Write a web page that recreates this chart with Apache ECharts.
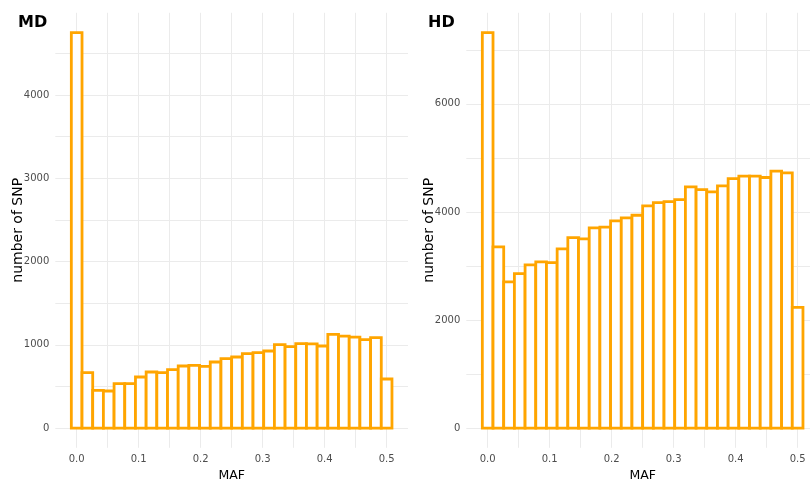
<!DOCTYPE html>
<html>
<head>
<meta charset="utf-8">
<script src="https://cdn.jsdelivr.net/npm/echarts@6/dist/echarts.min.js"></script>
<style>html,body{margin:0;padding:0;background:#fff}#c{width:810px;height:482px}</style>
</head>
<body>
<div id="c"></div>
<script>
// Histogram: 30 bins, bin width 0.5/29, centred on 0 .. 0.5
const nBins = 30;
const binWidth = 0.5 / 29;
const mdCounts = [4750, 665, 453, 445, 533, 533, 613, 673, 665, 701, 745, 753, 741, 793, 833,
                  853, 893, 905, 925, 1001, 977, 1014, 1010, 985, 1125, 1105, 1093, 1062, 1086, 589];
const hdCounts = [7320, 3352, 2704, 2859, 3019, 3074, 3063, 3315, 3526, 3500, 3704, 3717, 3833, 3889, 3939,
                  4111, 4173, 4192, 4229, 4463, 4414, 4370, 4481, 4618, 4661, 4661, 4637, 4754, 4722, 2235];
const xTickLabels = [0, 0.1, 0.2, 0.3, 0.4, 0.5];
const xGridValues = [0, 0.05, 0.1, 0.15, 0.2, 0.25, 0.3, 0.35, 0.4, 0.45, 0.5];
const mdYTickLabels = [0, 1000, 2000, 3000, 4000];
const mdYGridValues = [0, 500, 1000, 1500, 2000, 2500, 3000, 3500, 4000, 4500];
const hdYTickLabels = [0, 2000, 4000, 6000];
const hdYGridValues = [0, 1000, 2000, 3000, 4000, 5000, 6000, 7000];
const panelTitles = ['MD', 'HD'];
const xTitle = 'MAF';
const yTitle = 'number of SNP';

const chart = echarts.init(document.getElementById('c'), null, {renderer: 'canvas'});

function toData(counts) {
  return counts.map((c, k) => [k * binWidth, c]);
}
const xMin = -binWidth / 2 - 0.05 * (0.5 + binWidth);
const xMax = 0.5 + binWidth / 2 + 0.05 * (0.5 + binWidth);
function yRange(counts) {
  const m = Math.max(...counts);
  return [-0.05 * m, 1.05 * m];
}
const gridColor = '#EBEBEB';
const labelColor = '#4D4D4D';
const font = 'DejaVu Sans';

function xAxisFor(gi) {
  return {
    type: 'value', gridIndex: gi, min: xMin, max: xMax,
    name: xTitle, nameLocation: 'middle', nameGap: 21, nameMoveOverlap: false,
    nameTextStyle: {color: '#000', fontSize: 12.5, fontFamily: font},
    axisLine: {show: false},
    axisTick: {show: false, customValues: xGridValues},
    axisLabel: {customValues: xTickLabels, color: labelColor, fontSize: 10, fontFamily: font, margin: 7,
      formatter: v => v.toFixed(1)},
    splitLine: {show: true, lineStyle: {color: gridColor, width: 1}}
  };
}
function yAxisFor(gi, counts, labels, grids) {
  const r = yRange(counts);
  return {
    type: 'value', gridIndex: gi, min: r[0], max: r[1],
    name: yTitle, nameLocation: 'middle', nameGap: 30, nameMoveOverlap: false,
    nameTextStyle: {color: '#000', fontSize: 14, fontFamily: font},
    axisLine: {show: false},
    axisTick: {show: false, customValues: grids},
    axisLabel: {customValues: labels, color: labelColor, fontSize: 10, fontFamily: font, margin: 6,
      formatter: v => String(Math.round(v))},
    splitLine: {show: true, lineStyle: {color: gridColor, width: 1}}
  };
}
function renderBar(params, api) {
  const x = api.value(0), y = api.value(1);
  const p0 = api.coord([x - binWidth / 2, y]);
  const p1 = api.coord([x + binWidth / 2, 0]);
  return {
    type: 'rect',
    shape: {x: p0[0], y: p0[1], width: p1[0] - p0[0], height: p1[1] - p0[1]},
    style: {fill: '#FFFFFF', stroke: '#FFA500', lineWidth: 2.8}
  };
}

chart.setOption({
  backgroundColor: '#FFFFFF',
  animation: false,
  title: [
    {text: panelTitles[0], left: 13, top: 10, textStyle: {fontFamily: font, fontWeight: 'bold', fontSize: 16, color: '#000'}},
    {text: panelTitles[1], left: 423, top: 10, textStyle: {fontFamily: font, fontWeight: 'bold', fontSize: 16, color: '#000'}}
  ],
  grid: [
    {left: 55.3, top: 12.8, width: 352.7, height: 435, containLabel: false, outerBoundsMode: 'none'},
    {left: 466.3, top: 12.8, width: 352.7, height: 435, containLabel: false, outerBoundsMode: 'none'}
  ],
  xAxis: [xAxisFor(0), xAxisFor(1)],
  yAxis: [yAxisFor(0, mdCounts, mdYTickLabels, mdYGridValues), yAxisFor(1, hdCounts, hdYTickLabels, hdYGridValues)],
  series: [
    {type: 'custom', xAxisIndex: 0, yAxisIndex: 0, renderItem: renderBar, data: toData(mdCounts), clip: false},
    {type: 'custom', xAxisIndex: 1, yAxisIndex: 1, renderItem: renderBar, data: toData(hdCounts), clip: false}
  ]
});
</script>
</body>
</html>
